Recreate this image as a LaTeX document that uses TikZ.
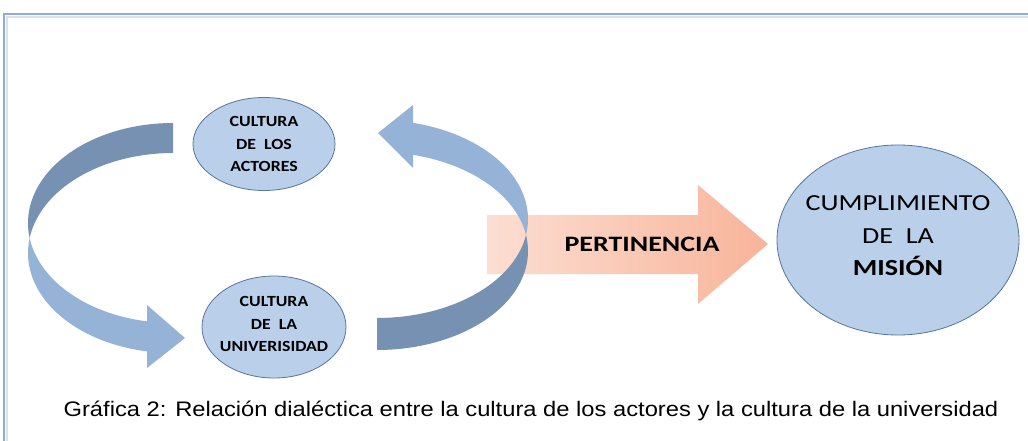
\documentclass[tikz,border=0pt]{standalone}
\usepackage{fontspec}
\usetikzlibrary{shapes.geometric}
\newfontfamily\smallfont[FakeStretch=1.15]{Carlito}
\newfontfamily\bigfont[FakeStretch=1.22]{Carlito}
\newfontfamily\pertfont[FakeStretch=1.27]{Carlito}
\newfontfamily\capfont[FakeStretch=1.13]{Liberation Sans}
\definecolor{frameblue}{RGB}{141,173,222}
\definecolor{frameshadow}{RGB}{222,226,230}
\definecolor{ellfill}{RGB}{186,208,234}
\definecolor{elldraw}{RGB}{88,116,156}
\definecolor{lightarrow}{RGB}{149,179,215}
\definecolor{darkarrow}{RGB}{119,145,178}
\definecolor{pinkleft}{RGB}{252,222,210}
\definecolor{pinkright}{RGB}{248,180,154}
\tikzset{
  ell/.style={ellipse, draw=elldraw, fill=ellfill, line width=0.8pt, inner sep=0pt},
  smalltxt/.style={font=\smallfont\bfseries\fontsize{15.5}{22.5}\selectfont, align=center, inner sep=0pt},
  bigtxt/.style={font=\bigfont\fontsize{23}{32.5}\selectfont, align=center, inner sep=0pt},
}
\begin{document}
\begin{tikzpicture}[x=1pt,y=-1pt]
\useasboundingbox (0,0) rectangle (1028,441);
\fill[white] (0,0) rectangle (1028,441);
% frame
\draw[frameshadow, line width=2pt] (7,441) -- (7,17) -- (1028,17);
\draw[frameblue, line width=1.5pt] (4,441) -- (4,14) -- (1028,14);

% straight pink arrow
\shade[left color=pinkleft, right color=pinkright]
  (487,215) -- (698,215) -- (698,185) -- (768,244) -- (698,304) -- (698,274) -- (487,274) -- cycle;
\node[font=\pertfont\bfseries\fontsize{22}{24}\selectfont] (pert) at (642,244) {PERTINENCIA};

% left curved arrow (upper dark part)
\fill[darkarrow]
  plot[domain=270:171.37, samples=60] ({173+145*cos(\x)},{223+100*sin(\x)})
  -- plot[domain=188.63:270, samples=60] ({173+145*cos(\x)},{253+100*sin(\x)}) -- cycle;
% left curved arrow (lower light part with head)
\fill[lightarrow]
  plot[domain=171.37:100.33, samples=60] ({173+145*cos(\x)},{223+100*sin(\x)})
  -- (147,305) -- (185,338) -- (147,368)
  -- plot[domain=100.33:188.63, samples=60] ({173+145*cos(\x)},{253+100*sin(\x)}) -- cycle;

% right curved arrow (lower dark part)
\fill[darkarrow]
  plot[domain=9.30:90, samples=60] ({377+151*cos(\x)},{219+99*sin(\x)})
  -- plot[domain=90:-9.30, samples=60] ({377+151*cos(\x)},{251+99*sin(\x)}) -- cycle;
% right curved arrow (upper light part with head)
\fill[lightarrow]
  plot[domain=-9.30:-76.2, samples=60] ({377+151*cos(\x)},{251+99*sin(\x)})
  -- (413,168) -- (378,133) -- (413,105)
  -- plot[domain=-76.2:9.30, samples=60] ({377+151*cos(\x)},{219+99*sin(\x)}) -- cycle;

% ellipses
\node[ell, minimum width=142, minimum height=93,
  label={[smalltxt]center:CULTURA\\DE\ \ LOS\\ACTORES}] (actores) at (264,144) {};
\node[ell, minimum width=144, minimum height=102,
  label={[smalltxt, yshift=3pt]center:CULTURA\\DE\ \ LA\\UNIVERISIDAD}] (univ) at (274,327) {};
\node[ell, minimum width=242, minimum height=190,
  label={[bigtxt, yshift=4pt]center:CUMPLIMIENTO\\DE\ \ LA\\\textbf{MISIÓN}}] (mision) at (898,240) {};

% caption
\node[font=\capfont\fontsize{21}{24}\selectfont] (caption) at (531,411)
  {Gráfica 2: Relación dialéctica entre la cultura de los actores y la cultura de la universidad};
\end{tikzpicture}
\end{document}
